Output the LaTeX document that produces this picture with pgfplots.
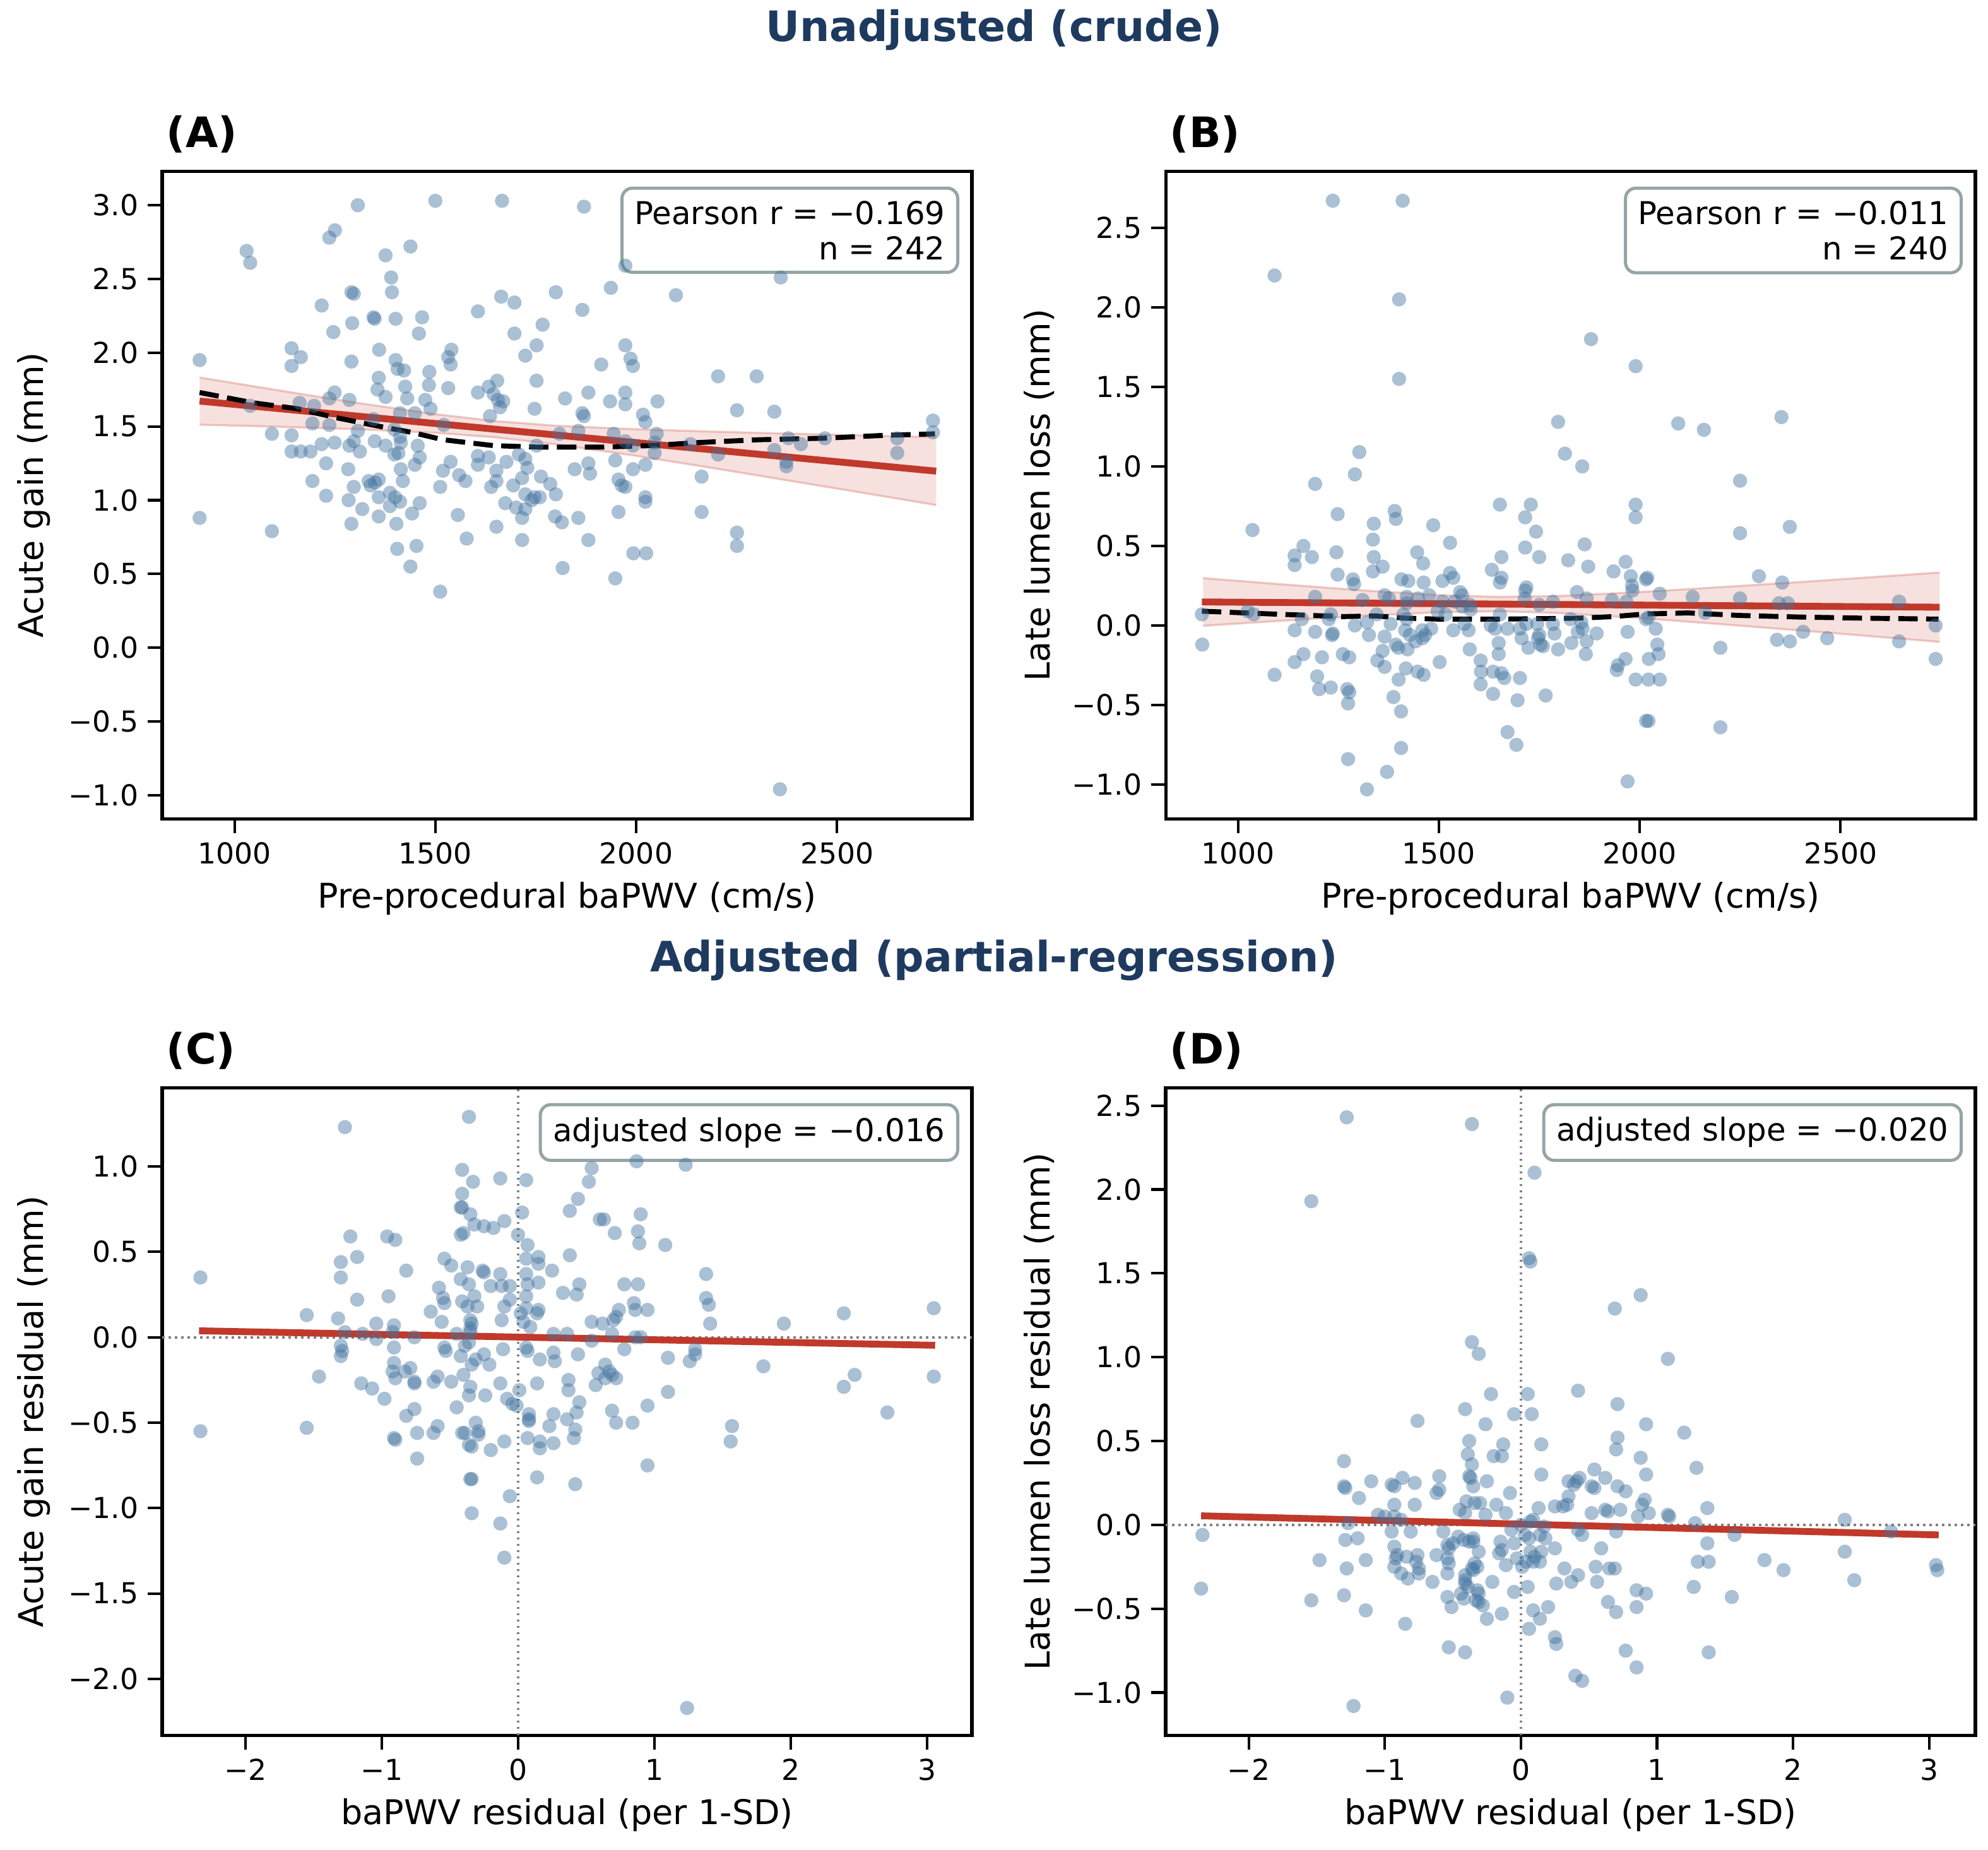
\documentclass[border=0pt]{standalone}
\usepackage{fontspec}
\setmainfont{DejaVu Sans}
\usepackage{pgfplots}
\pgfplotsset{compat=1.18}
\usepgfplotslibrary{fillbetween}
\definecolor{pt}{RGB}{66,115,159}
\definecolor{reg}{HTML}{C0392B}
\definecolor{boxedge}{HTML}{95A5A6}
\definecolor{navy}{RGB}{30,58,95}
\tikzset{
  infobox/.style={draw=boxedge, line width=1.2bp, rounded corners=4bp, fill=white, fill opacity=0.85, text opacity=1, align=right, inner sep=4.8bp, anchor=north east, xshift=-4.8bp, yshift=-5.8bp, font=\fontsize{12}{13.6}\selectfont},
}
\pgfplotsset{
  panel/.style={
    width=307.9bp, height=246.2bp, scale only axis,
    axis line style={line width=1.25bp},
    tick style={line width=1bp, black},
    tick align=outside, major tick length=5.5bp,
    xtick pos=bottom, ytick pos=left,
    ticklabel style={font=\fontsize{11}{13}\selectfont},
    label style={font=\fontsize{13}{15}\selectfont},
    clip=true,
  },
  pts/.style={only marks, mark=*, mark size=2.7bp, mark options={draw=pt, draw opacity=0, line width=0pt, fill=pt, fill opacity=0.45}},
  regl/.style={reg, line width=2.6bp, no marks},
  lowl/.style={black, line width=1.9bp, dash pattern=on 7.4bp off 3.2bp, no marks},
  bandedge/.style={draw=reg, draw opacity=0.25, line width=0.8bp, no marks},
  zerol/.style={gray, line width=0.9bp, dash pattern=on 0.9bp off 1.5bp, no marks},
}
\begin{document}
\begin{tikzpicture}

% ---------------- Panel A ----------------
\begin{axis}[panel, at={(61.7bp,392.1bp)}, anchor=south west,
  xmin=820, xmax=2836, ymin=-1.16, ymax=3.23,
  xtick={1000,1500,2000,2500}, xticklabels={1000,1500,2000,2500},
  ytick={-1,-0.5,0,0.5,1,1.5,2,2.5,3},
  yticklabels={−1.0,−0.5,0.0,0.5,1.0,1.5,2.0,2.5,3.0},
  xlabel={Pre-procedural baPWV (cm/s)}, ylabel={Acute gain (mm)}]
\addplot[pts] coordinates {
(1307,3.00)(1500,3.03)(1666,3.03)(1870,2.99)(1030,2.69)(1039,2.61)(1236,2.78)(1250,2.83)(1376,2.66)(1438,2.72)
(1973,2.59)(2360,2.51)(1390,2.51)(1392,2.41)(1291,2.41)(1297,2.40)(1217,2.32)(1606,2.28)(1664,2.38)(1697,2.34)
(1800,2.41)(1937,2.44)(2099,2.39)(1866,2.29)(1346,2.24)(1349,2.23)(1401,2.23)(1467,2.24)(1293,2.20)(1767,2.19)
(1246,2.14)(1459,2.13)(1697,2.13)(1752,2.05)(1973,2.05)(1142,2.03)(1360,2.02)(1540,2.02)(1724,1.98)(1532,1.97)
(1165,1.97)(913,1.95)(1986,1.96)(1291,1.94)(1401,1.95)(1538,1.92)(1913,1.92)(1992,1.91)(1142,1.91)(1406,1.89)
(1422,1.88)(1485,1.87)(1359,1.83)(1752,1.81)(1654,1.81)(2204,1.84)(2300,1.84)(1425,1.77)(1484,1.78)(1356,1.75)
(1532,1.76)(1606,1.73)(1633,1.77)(1645,1.72)(1881,1.73)(1973,1.73)(1249,1.73)(1376,1.70)(1236,1.69)(1286,1.68)
(1656,1.68)(1669,1.67)(1661,1.63)(1430,1.69)(1475,1.68)(1823,1.69)(1935,1.67)(1973,1.65)(2053,1.67)(1162,1.66)
(1198,1.64)(1039,1.64)(1488,1.62)(1747,1.62)(2251,1.61)(2344,1.60)(1636,1.57)(1870,1.57)(1866,1.59)(1449,1.59)
(1412,1.59)(2017,1.58)(2023,1.53)(1346,1.55)(1194,1.52)(1236,1.51)(1521,1.51)(1142,1.44)(1093,1.45)(1809,1.45)
(1856,1.47)(1944,1.45)(2051,1.45)(2046,1.39)(1307,1.47)(1398,1.48)(1412,1.43)(1456,1.37)(1249,1.39)(1217,1.38)
(1286,1.37)(1297,1.40)(1349,1.40)(1376,1.37)(1414,1.39)(1408,1.32)(1398,1.31)(1142,1.33)(1165,1.33)(1189,1.33)
(1312,1.33)(1606,1.30)(1633,1.29)(1538,1.26)(1708,1.31)(1724,1.28)(1752,1.37)(1973,1.40)(1992,1.37)(2046,1.32)
(2135,1.38)(2204,1.31)(2344,1.34)(2379,1.42)(2410,1.38)(2470,1.42)(2650,1.42)(2650,1.32)(2739,1.54)(2739,1.46)
(2374,1.26)(2374,1.23)(1228,1.25)(1461,1.29)(1449,1.24)(1677,1.26)(1881,1.25)(1847,1.21)(1885,1.18)(1948,1.27)
(1992,1.21)(2023,1.24)(1606,1.24)(1652,1.20)(1729,1.22)(1519,1.20)(1414,1.21)(1283,1.21)(1559,1.17)(1575,1.13)
(1419,1.13)(1334,1.13)(1359,1.14)(1339,1.10)(1350,1.12)(1297,1.09)(1194,1.13)(1716,1.15)(1652,1.13)(1763,1.16)
(1512,1.09)(1639,1.09)(1694,1.10)(1786,1.11)(1956,1.14)(1964,1.10)(1973,1.09)(2163,1.16)(1800,1.04)(1724,1.04)
(1747,1.02)(1760,1.02)(1740,1.00)(1674,0.98)(1724,0.94)(1701,0.95)(1716,0.88)(1798,0.89)(1815,0.85)(1856,0.88)
(1956,0.92)(2023,1.02)(2023,0.99)(2163,0.92)(2251,0.78)(2251,0.69)(1359,1.02)(1387,1.05)(1400,1.02)(1412,0.99)
(1387,0.96)(1318,0.94)(1284,1.00)(1228,1.03)(1461,0.98)(1442,0.91)(1359,0.89)(1403,0.84)(1291,0.84)(1556,0.90)
(1652,0.82)(1578,0.74)(1716,0.73)(1881,0.73)(1405,0.67)(1453,0.69)(1438,0.55)(1993,0.64)(2025,0.64)(1817,0.54)
(1948,0.47)(1512,0.38)(913,0.88)(1093,0.79)(2358,-0.96)
};
\addplot[bandedge, name path=aup] coordinates {(913,1.832)(1100,1.749)(1300,1.662)(1500,1.583)(1650,1.536)(1800,1.505)(2000,1.481)(2200,1.464)(2400,1.450)(2600,1.436)(2747,1.427)};
\addplot[bandedge, name path=alo] coordinates {(913,1.512)(1100,1.499)(1300,1.482)(1500,1.457)(1650,1.426)(1800,1.379)(2000,1.301)(2200,1.214)(2400,1.124)(2600,1.034)(2747,0.967)};
\addplot[fill=reg, fill opacity=0.15, draw=none] fill between[of=aup and alo];
\addplot[regl] coordinates {(913,1.672)(2747,1.197)};
\addplot[lowl] coordinates {(913,1.73)(1047,1.66)(1157,1.62)(1252,1.56)(1362,1.50)(1441,1.46)(1519,1.41)(1645,1.37)(1756,1.36)(1913,1.36)(2039,1.37)(2149,1.39)(2306,1.41)(2464,1.42)(2621,1.44)(2744,1.45)};
\node[infobox] at (rel axis cs:1,1) {Pearson r = −0.169\\n = 242};
\end{axis}

% ---------------- Panel B ----------------
\begin{axis}[panel, at={(443.3bp,392.1bp)}, anchor=south west,
  xmin=820, xmax=2836, ymin=-1.215, ymax=2.855,
  xtick={1000,1500,2000,2500}, xticklabels={1000,1500,2000,2500},
  ytick={-1,-0.5,0,0.5,1,1.5,2,2.5},
  yticklabels={−1.0,−0.5,0.0,0.5,1.0,1.5,2.0,2.5},
  xlabel={Pre-procedural baPWV (cm/s)}, ylabel={Late lumen loss (mm)}]
\addplot[pts] coordinates {
(1236,2.67)(1410,2.67)(1091,2.20)(1401,2.05)(1879,1.80)(1990,1.63)(1401,1.55)(2353,1.31)(1797,1.28)(2096,1.27)
(2160,1.23)(1302,1.09)(1814,1.08)(1291,0.95)(1857,1.00)(2250,0.91)(1192,0.89)(1652,0.76)(1729,0.76)(1990,0.76)
(1990,0.68)(1715,0.68)(1390,0.72)(1393,0.67)(1248,0.70)(1338,0.64)(1486,0.63)(1742,0.59)(1036,0.60)(2250,0.58)
(2374,0.62)(1336,0.54)(1528,0.52)(1163,0.50)(1863,0.51)(1715,0.49)(1141,0.44)(1245,0.46)(1446,0.46)(1184,0.43)
(1338,0.43)(1656,0.43)(1750,0.43)(1822,0.41)(1965,0.40)(1141,0.38)(1461,0.39)(1360,0.37)(1872,0.37)(1336,0.34)
(1632,0.35)(1935,0.34)(1248,0.32)(1528,0.33)(1656,0.30)(1978,0.31)(2019,0.30)(2016,0.29)(2297,0.31)(1286,0.29)
(1289,0.26)(1407,0.29)(1424,0.28)(1462,0.27)(1509,0.28)(1536,0.30)(1652,0.27)(1718,0.24)(1715,0.22)(1981,0.25)
(2355,0.27)(1553,0.21)(1558,0.19)(1982,0.22)(1844,0.21)(2050,0.20)(1365,0.19)(1376,0.17)(1420,0.18)(1476,0.19)
(1448,0.17)(1192,0.18)(1310,0.16)(2132,0.18)(2250,0.17)(1868,0.17)(1931,0.16)(1967,0.15)(1714,0.17)(1750,0.13)
(1784,0.15)(1509,0.15)(1539,0.15)(1558,0.12)(1577,0.13)(2347,0.14)(2369,0.14)(2646,0.15)(1420,0.14)(1024,0.09)
(1039,0.07)(910,0.07)(911,-0.12)(2737,0.00)(2737,-0.21)(2646,-0.10)(2342,-0.09)(2374,-0.10)(2407,-0.04)(2467,-0.08)
(2201,-0.14)(2201,-0.64)(2163,0.08)(2016,0.04)(2022,0.05)(1970,-0.04)(2040,-0.02)(2044,-0.12)(2047,-0.18)(2023,-0.21)
(1990,-0.34)(2022,-0.34)(2050,-0.34)(1965,-0.21)(1946,-0.25)(1943,-0.28)(2016,-0.60)(2022,-0.60)(1970,-0.98)(1893,-0.05)
(1868,-0.10)(1866,-0.18)(1858,-0.02)(1846,-0.04)(1830,-0.11)(1797,-0.15)(1788,-0.05)(1745,0.01)(1750,-0.06)(1747,-0.08)
(1753,-0.12)(1759,-0.13)(1723,-0.14)(1766,-0.44)(1696,-0.47)(1693,-0.75)(1671,-0.67)(1702,-0.33)(1656,-0.30)(1635,-0.29)
(1663,-0.33)(1635,-0.43)(1604,-0.22)(1605,-0.29)(1604,-0.37)(1577,-0.15)(1649,-0.11)(1649,-0.18)(1640,-0.02)(1671,-0.02)
(1629,0.00)(1652,0.07)(1702,-0.02)(1718,0.01)(1502,-0.23)(1536,-0.03)(1481,-0.02)(1466,-0.06)(1459,-0.03)(1442,-0.10)
(1459,-0.08)(1422,-0.15)(1418,-0.27)(1462,-0.31)(1447,-0.29)(1400,-0.34)(1387,-0.45)(1406,-0.54)(1406,-0.77)(1371,-0.92)
(1321,-1.03)(1274,-0.84)(1272,-0.40)(1277,-0.42)(1274,-0.49)(1202,-0.40)(1231,-0.39)(1197,-0.32)(1209,-0.20)(1277,-0.20)
(1261,-0.18)(1163,-0.18)(1141,-0.23)(1091,-0.31)(1141,-0.03)(1159,0.04)(1192,-0.04)(1236,-0.05)(1234,-0.06)(1226,0.04)
(1231,0.07)(1291,0.00)(1321,0.02)(1326,-0.06)(1347,-0.22)(1365,-0.26)(1365,-0.07)(1360,-0.16)(1393,-0.12)(1399,-0.14)
(1416,-0.03)(1428,-0.06)(1420,0.04)(1412,0.07)(1345,0.07)(1380,0.01)(1564,0.01)(1574,-0.03)(1497,0.09)(1517,0.07)
(1579,0.10)(1706,-0.08)(1784,0.01)(1828,0.04)(1855,0.02)
};
\addplot[bandedge, name path=bup] coordinates {(913,0.298)(1100,0.2605)(1300,0.2224)(1500,0.1909)(1650,0.1796)(1800,0.1855)(2000,0.2099)(2200,0.2408)(2400,0.2732)(2600,0.3076)(2747,0.333)};
\addplot[bandedge, name path=blo] coordinates {(913,-0.002)(1100,0.0285)(1300,0.0594)(1500,0.0837)(1650,0.0896)(1800,0.0783)(2000,0.0469)(2200,0.0088)(2400,-0.0308)(2600,-0.0724)(2747,-0.103)};
\addplot[fill=reg, fill opacity=0.15, draw=none] fill between[of=bup and blo];
\addplot[regl] coordinates {(910,0.148)(2747,0.115)};
\addplot[lowl] coordinates {(910,0.09)(1088,0.072)(1261,0.056)(1341,0.06)(1420,0.046)(1500,0.04)(1650,0.04)(1850,0.046)(1935,0.056)(2010,0.072)(2120,0.079)(2250,0.063)(2400,0.053)(2560,0.046)(2744,0.04)};
\node[infobox] at (rel axis cs:1,1) {Pearson r = −0.011\\n = 240};
\end{axis}

% ---------------- Panel C ----------------
\begin{axis}[panel, at={(61.7bp,43.6bp)}, anchor=south west,
  xmin=-2.61, xmax=3.33, ymin=-2.33, ymax=1.46,
  xtick={-2,-1,0,1,2,3}, xticklabels={−2,−1,0,1,2,3},
  ytick={-2,-1.5,-1,-0.5,0,0.5,1},
  yticklabels={−2.0,−1.5,−1.0,−0.5,0.0,0.5,1.0},
  xlabel={baPWV residual (per 1-SD)}, ylabel={Acute gain residual (mm)}]
\addplot[zerol] coordinates {(-2.61,0)(3.33,0)};
\addplot[zerol] coordinates {(0,-2.33)(0,1.46)};
\addplot[pts] coordinates {
(-2.33,0.35)(-2.33,-0.55)(-1.55,0.13)(-1.55,-0.53)(-1.46,-0.23)(-1.27,1.23)(-1.23,0.59)(-1.30,0.44)(-1.18,0.47)(-1.30,0.35)
(-1.18,0.22)(-1.32,0.11)(-1.27,0.03)(-1.30,-0.05)(-1.29,-0.08)(-1.30,-0.11)(-1.14,0.02)(-1.15,-0.27)(-1.07,-0.30)(-1.04,0.08)
(-1.04,-0.01)(-0.96,0.59)(-0.90,0.57)(-0.95,0.24)(-0.91,0.07)(-0.92,0.03)(-0.91,-0.06)(-0.91,-0.15)(-0.92,-0.20)(-0.90,-0.24)
(-0.98,-0.36)(-0.82,0.39)(-0.83,-0.20)(-0.79,-0.18)(-0.76,0.00)(-0.76,-0.26)(-0.76,-0.27)(-0.82,-0.46)(-0.76,-0.42)(-0.91,-0.59)
(-0.90,-0.60)(-0.74,-0.56)(-0.74,-0.71)(-0.64,0.15)(-0.62,-0.26)(-0.59,-0.23)(-0.62,-0.56)(-0.59,-0.52)(-0.58,0.29)(-0.55,0.23)
(-0.54,0.20)(-0.54,0.46)(-0.49,0.42)(-0.56,0.09)(-0.54,-0.06)(-0.53,-0.08)(-0.49,-0.26)(-0.45,-0.41)(-0.45,0.02)(-0.42,0.34)
(-0.41,0.21)(-0.41,0.98)(-0.41,0.84)(-0.41,0.76)(-0.42,0.76)(-0.42,0.60)(-0.40,0.61)(-0.42,-0.11)(-0.40,-0.22)(-0.37,0.41)
(-0.36,0.31)(-0.37,0.18)(-0.35,0.10)(-0.34,0.08)(-0.35,0.05)(-0.35,0.03)(-0.36,-0.03)(-0.39,-0.05)(-0.34,-0.16)(-0.35,-0.29)
(-0.36,-0.34)(-0.41,-0.56)(-0.39,-0.56)(-0.36,-0.63)(-0.34,-0.64)(-0.34,-0.83)(-0.35,-0.83)(-0.34,-1.03)(-0.36,1.29)(-0.35,0.72)
(-0.33,0.91)(-0.32,0.66)(-0.32,0.24)(-0.30,0.18)(-0.31,-0.50)(-0.29,-0.57)(-0.29,-0.55)(-0.26,0.39)(-0.25,0.38)(-0.25,0.65)
(-0.24,-0.34)(-0.31,-0.13)(-0.25,-0.10)(-0.21,-0.16)(-0.20,-0.66)(-0.20,0.30)(-0.18,0.64)(-0.13,0.93)(-0.10,0.68)(-0.13,0.37)
(-0.12,0.30)(-0.10,0.18)(-0.12,0.10)(-0.13,-0.27)(-0.11,-0.07)(-0.08,-0.36)(-0.10,-0.61)(-0.06,0.30)(-0.06,0.22)(-0.06,-0.93)
(-0.13,-1.09)(-0.10,-1.29)(-0.04,-0.39)(-0.01,-0.40)(0.01,-0.31)(0.00,0.60)(0.03,0.73)(0.02,0.14)(0.04,0.09)(0.06,0.92)
(0.07,0.54)(0.06,0.46)(0.06,0.37)(0.07,0.31)(0.06,0.24)(0.06,0.17)(0.09,0.06)(0.06,-0.06)(0.07,-0.08)(0.08,-0.45)
(0.08,-0.48)(0.08,-0.49)(0.07,-0.59)(0.15,0.47)(0.15,0.43)(0.15,0.32)(0.15,0.16)(0.14,0.14)(0.16,-0.13)(0.14,-0.27)
(0.16,-0.61)(0.16,-0.65)(0.14,-0.82)(0.25,0.39)(0.26,0.02)(0.26,-0.09)(0.27,-0.14)(0.26,-0.45)(0.26,-0.62)(0.23,-0.52)
(0.33,0.26)(0.36,0.02)(0.38,0.74)(0.38,0.48)(0.37,-0.25)(0.37,-0.31)(0.36,-0.48)(0.42,-0.86)(0.41,-0.59)(0.42,-0.54)
(0.43,-0.44)(0.44,-0.10)(0.45,-0.38)(0.43,0.25)(0.45,0.31)(0.44,0.81)(0.52,0.91)(0.54,0.99)(0.54,-0.02)(0.54,0.09)
(0.57,-0.28)(0.59,-0.21)(0.60,0.69)(0.63,0.69)(0.62,0.08)(0.64,-0.16)(0.64,-0.24)(0.67,-0.20)(0.69,-0.22)(0.69,0.02)
(0.70,0.10)(0.72,0.12)(0.71,0.61)(0.72,-0.24)(0.69,-0.43)(0.72,-0.50)(0.74,0.16)(0.78,-0.07)(0.78,0.31)(0.84,-0.50)
(0.85,0.20)(0.86,0.00)(0.87,1.03)(0.88,0.62)(0.89,0.55)(0.88,0.31)(0.86,0.16)(0.90,0.72)(0.90,0.00)(0.95,0.16)
(0.95,-0.40)(0.95,-0.75)(1.08,0.54)(1.10,-0.12)(1.10,-0.32)(1.23,1.01)(1.24,-2.17)(1.26,-0.14)(1.30,-0.07)(1.30,-0.10)
(1.38,0.37)(1.38,0.23)(1.40,0.19)(1.41,0.08)(1.57,-0.52)(1.56,-0.61)(1.80,-0.17)(1.95,0.08)(2.39,0.14)(2.39,-0.29)
(2.47,-0.22)(2.71,-0.44)(3.05,0.17)(3.05,-0.23)
};
\addplot[regl] coordinates {(-2.34,0.0378)(3.06,-0.047)};
\node[infobox] at (rel axis cs:1,1) {adjusted slope = −0.016};
\end{axis}

% ---------------- Panel D ----------------
\begin{axis}[panel, at={(443.3bp,43.6bp)}, anchor=south west,
  xmin=-2.61, xmax=3.34, ymin=-1.255, ymax=2.606,
  xtick={-2,-1,0,1,2,3}, xticklabels={−2,−1,0,1,2,3},
  ytick={-1,-0.5,0,0.5,1,1.5,2,2.5},
  yticklabels={−1.0,−0.5,0.0,0.5,1.0,1.5,2.0,2.5},
  xlabel={baPWV residual (per 1-SD)}, ylabel={Late lumen loss residual (mm)}]
\addplot[zerol] coordinates {(-2.61,0)(3.34,0)};
\addplot[zerol] coordinates {(0,-1.255)(0,2.606)};
\addplot[pts] coordinates {
(-2.34,-0.06)(-2.35,-0.38)(-1.28,2.43)(-0.36,2.39)(-1.54,1.93)(0.10,2.10)(0.06,1.59)(0.07,1.57)(0.69,1.29)(0.88,1.37)
(-0.36,1.09)(-0.31,1.02)(1.08,0.99)(-0.22,0.78)(0.05,0.78)(0.42,0.80)(0.71,0.72)(-0.41,0.69)(-0.05,0.66)(0.08,0.66)
(-0.76,0.62)(-0.26,0.60)(0.92,0.60)(1.20,0.55)(-0.38,0.50)(-0.13,0.48)(0.15,0.48)(0.71,0.52)(0.70,0.45)(-0.39,0.42)
(-0.14,0.41)(-0.20,0.41)(0.88,0.40)(-1.30,0.38)(-0.36,0.36)(1.29,0.34)(0.54,0.33)(0.15,0.30)(0.92,0.30)(-0.60,0.29)
(-0.38,0.29)(-0.37,0.28)(0.62,0.28)(-1.10,0.26)(-0.87,0.28)(-0.78,0.25)(-0.25,0.26)(0.35,0.26)(0.41,0.26)(0.39,0.24)
(0.43,0.28)(-0.95,0.24)(-0.93,0.23)(-1.30,0.23)(-1.29,0.22)(-0.35,0.23)(-0.60,0.21)(0.52,0.23)(0.54,0.22)(0.71,0.23)
(-0.62,0.19)(0.77,0.20)(-0.08,0.19)(-1.19,0.16)(0.35,0.17)(0.91,0.15)(0.89,0.12)(-0.40,0.14)(-0.34,0.13)(-0.30,0.13)
(-0.93,0.12)(-0.78,0.12)(-0.18,0.12)(0.25,0.11)(0.31,0.11)(0.34,0.12)(0.13,0.10)(1.37,0.10)(-0.45,0.09)(-0.41,0.07)
(0.73,0.09)(0.62,0.09)(0.64,0.08)(0.52,0.07)(0.94,0.07)(1.08,0.06)(1.09,0.05)(-1.05,0.06)(-1.00,0.05)(-0.93,0.05)
(-0.88,0.03)(-0.26,0.06)(-0.11,0.07)(0.86,0.05)(2.38,0.03)(-1.27,0.01)(1.28,0.01)(0.07,0.02)(0.09,0.03)(0.00,0.00)
(-0.07,-0.03)(0.17,-0.01)(-0.95,-0.04)(-0.81,-0.04)(-0.57,-0.04)(-0.46,-0.07)(-0.42,-0.09)(-0.35,-0.08)(-0.38,-0.10)(-0.35,-0.10)
(-0.50,-0.11)(-0.15,-0.10)(-0.05,-0.11)(0.03,-0.06)(0.06,-0.08)(0.14,-0.06)(0.18,-0.08)(0.42,-0.03)(0.45,-0.06)(0.70,-0.04)
(1.57,-0.06)(2.72,-0.04)(-1.29,-0.09)(-1.20,-0.08)(-0.93,-0.13)(-0.54,-0.12)(-0.53,-0.14)(0.59,-0.14)(1.37,-0.11)(2.38,-0.16)
(-0.91,-0.18)(-0.92,-0.20)(-0.76,-0.18)(-0.77,-0.22)(-0.84,-0.19)(-0.62,-0.18)(-0.54,-0.20)(-0.53,-0.23)(-0.31,-0.16)(-0.16,-0.17)
(-0.14,-0.15)(-0.03,-0.20)(0.07,-0.16)(0.10,-0.19)(0.15,-0.16)(0.25,-0.14)(0.04,-0.22)(0.09,-0.22)(0.14,-0.22)(-0.34,-0.23)
(-0.32,-0.25)(-1.48,-0.21)(-1.14,-0.21)(-1.28,-0.26)(-0.93,-0.25)(-0.88,-0.29)(-0.75,-0.26)(-0.83,-0.32)(-0.75,-0.29)(-0.65,-0.34)
(-0.54,-0.29)(-0.36,-0.26)(-0.35,-0.27)(-0.11,-0.24)(0.01,-0.25)(0.32,-0.26)(0.55,-0.25)(0.65,-0.26)(0.69,-0.26)(1.30,-0.22)
(1.38,-0.22)(1.79,-0.21)(1.93,-0.27)(2.45,-0.33)(3.05,-0.24)(3.06,-0.27)(-0.41,-0.30)(-0.41,-0.33)(-0.21,-0.34)(-0.41,-0.35)
(-0.39,-0.37)(-0.44,-0.41)(-0.42,-0.44)(-0.32,-0.39)(-0.31,-0.41)(-0.54,-0.43)(-0.31,-0.46)(-0.28,-0.48)(-0.51,-0.49)(-0.33,-0.45)
(-1.30,-0.42)(-1.54,-0.45)(-1.14,-0.51)(-0.85,-0.59)(-0.25,-0.56)(-0.14,-0.53)(-0.05,-0.40)(0.05,-0.37)(0.26,-0.35)(0.37,-0.34)
(0.42,-0.30)(0.56,-0.34)(0.09,-0.51)(0.14,-0.56)(0.06,-0.62)(0.20,-0.49)(0.25,-0.67)(0.26,-0.71)(0.64,-0.46)(0.70,-0.52)
(0.85,-0.39)(0.92,-0.41)(0.85,-0.49)(1.27,-0.37)(1.55,-0.43)(0.77,-0.75)(0.85,-0.85)(1.38,-0.76)(-0.53,-0.73)(-0.41,-0.76)
(0.40,-0.90)(0.45,-0.93)(-0.10,-1.03)(-1.23,-1.08)
};
\addplot[regl] coordinates {(-2.35,0.054)(3.07,-0.060)};
\node[infobox] at (rel axis cs:1,1) {adjusted slope = −0.020};
\end{axis}

\node[anchor=base, font=\bfseries\fontsize{16}{19}\selectfont, text=navy] at (378bp,687.8bp) {Unadjusted (crude)};
\node[anchor=base, font=\bfseries\fontsize{16}{19}\selectfont, text=navy] at (378bp,334.0bp) {Adjusted (partial-regression)};
\node[anchor=base west, inner sep=0pt, font=\bfseries\fontsize{16}{19}\selectfont] at (63.1bp,647.5bp) {(A)};
\node[anchor=base west, inner sep=0pt, font=\bfseries\fontsize{16}{19}\selectfont] at (444.7bp,647.5bp) {(B)};
\node[anchor=base west, inner sep=0pt, font=\bfseries\fontsize{16}{19}\selectfont] at (63.1bp,299.0bp) {(C)};
\node[anchor=base west, inner sep=0pt, font=\bfseries\fontsize{16}{19}\selectfont] at (444.7bp,299.0bp) {(D)};
\path (0,0) rectangle (756bp,703.44bp);
\end{tikzpicture}
\end{document}
